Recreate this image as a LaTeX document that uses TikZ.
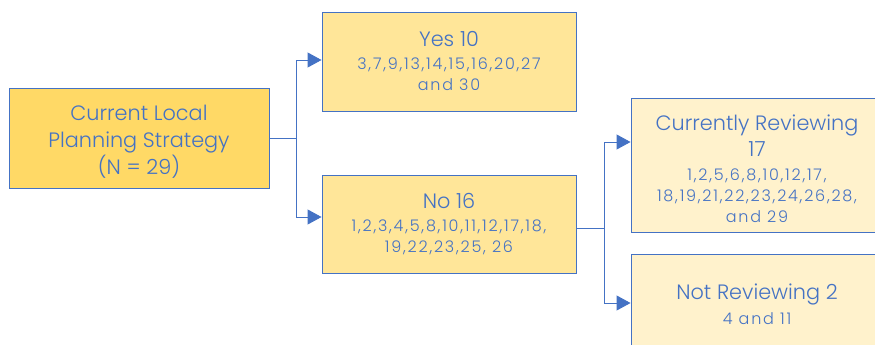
\documentclass[tikz,border=0pt]{standalone}
\usepackage{fontspec}
\setmainfont{Poppins}[UprightFont=* Light]
\newfontfamily\numf{Poppins}[UprightFont=* Light, LetterSpace=11]
\usetikzlibrary{arrows.meta}
\definecolor{bblue}{HTML}{4472C4}
\definecolor{fillA}{HTML}{FFD966}
\definecolor{fillB}{HTML}{FFE699}
\definecolor{fillC}{HTML}{FFF2CC}
\tikzset{
  box/.style={draw=bblue, line width=0.9pt, text=bblue, align=center, inner sep=0pt,
    font=\numf\fontsize{16}{21}\selectfont},
  conn/.style={draw=bblue, line width=0.9pt},
  arr/.style={conn, -{Triangle[length=14pt,width=15pt]}},
}
\newcommand{\hd}{\rmfamily\fontsize{20.8}{21}\selectfont}
\begin{document}
\begin{tikzpicture}[x=1pt,y=-1pt]
\useasboundingbox (0,0) rectangle (875,345);
\clip (0,0) rectangle (875,345);
\node[box, font=\rmfamily\fontsize{20.8}{27}\selectfont, fill=fillA, minimum width=260pt, minimum height=100pt] (root) at (139,138) {\rule{0pt}{22pt}Current Local\\Planning Strategy\\(N = 29)};
\node[box, fill=fillB, minimum width=254pt, minimum height=99pt] (yes) at (449,61.5) {{\hd Yes 10}\\[2pt]3,7,9,13,14,15,16,20,27\\and 30};
\node[box, fill=fillB, minimum width=254pt, minimum height=98pt] (no) at (449,224) {{\hd No 16}\\[2pt]1,2,3,4,5,8,10,11,12,17,18,\\19,22,23,25, 26};
\node[box, fill=fillC, minimum width=252pt, minimum height=134pt] (cur) at (757,165) {{\hd\rule{0pt}{23pt}Currently Reviewing}\\[5pt]{\hd 17}\\[3pt]1,2,5,6,8,10,12,17,\\18,19,21,22,23,24,26,28,\\and 29};
\node[box, fill=fillC, minimum width=252pt, minimum height=100pt] (not) at (757,304) {{\hd Not Reviewing 2}\\[4pt]4 and 11};
\coordinate (j1) at (root.east -| 296,0);
\coordinate (j2) at (604,228);
\draw[conn] (root.east) -- (j1);
\draw[arr] (j1) |- (yes.west |- 0,60);
\draw[arr] (j1) |- (no.west |- 0,217);
\draw[conn] (no.east |- 0,228) -- (j2);
\draw[arr] (j2) |- (cur.west |- 0,142);
\draw[arr] (j2) |- (not.west |- 0,303);
\end{tikzpicture}
\end{document}
